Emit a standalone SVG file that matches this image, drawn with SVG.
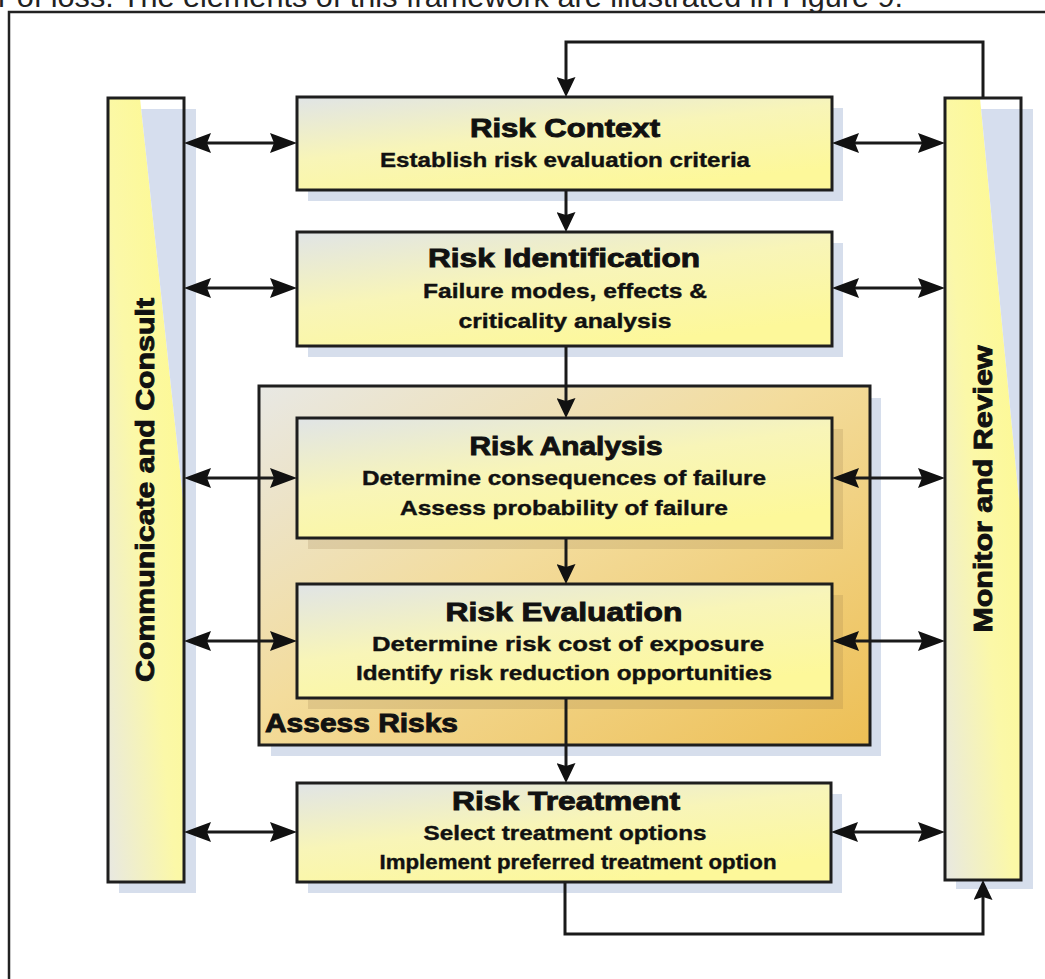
<svg xmlns="http://www.w3.org/2000/svg" width="1045" height="979" viewBox="0 0 1045 979">
<style>
.box{stroke:#1e1e1e;stroke-width:3}
.shadow{fill:#d6deec}
.ishadow{fill:#8a7040;fill-opacity:0.18}
.title{font-family:"Liberation Sans",Arial,sans-serif;font-weight:bold;font-size:26px;fill:#111;stroke:#111;stroke-width:0.9;text-anchor:middle}
.sub{font-family:"Liberation Sans",Arial,sans-serif;font-weight:bold;font-size:21px;fill:#111;stroke:#111;stroke-width:0.4;text-anchor:middle}
.conn{fill:none;stroke:#1a1a1a;stroke-width:3}
</style>
<defs>
<linearGradient id="gBox" x1="0" y1="0" x2="0.6" y2="1">
<stop offset="0" stop-color="#e0e4e6"/>
<stop offset="0.5" stop-color="#f8f5b8"/>
<stop offset="1" stop-color="#fdf89a"/>
</linearGradient>
<linearGradient id="gCol" x1="0" y1="1" x2="1" y2="0">
<stop offset="0" stop-color="#e8e8e2"/>
<stop offset="0.45" stop-color="#fbf8a8"/>
<stop offset="1" stop-color="#fef98a"/>
</linearGradient>
<linearGradient id="gAssess" x1="0" y1="0" x2="1" y2="1">
<stop offset="0" stop-color="#e8e8e4"/>
<stop offset="0.45" stop-color="#f3dc9c"/>
<stop offset="1" stop-color="#edbf55"/>
</linearGradient>
<marker id="hh" viewBox="0 0 27 20" refX="20" refY="10" markerWidth="27" markerHeight="20" markerUnits="userSpaceOnUse" orient="auto-start-reverse">
<path d="M0,0 L27,10 L0,20 L4,10 Z" fill="#111"/>
</marker>
<marker id="vh" viewBox="0 0 20 19" refX="14" refY="9.5" markerWidth="20" markerHeight="19" markerUnits="userSpaceOnUse" orient="auto">
<path d="M0,0 L20,9.5 L0,19 L3,9.5 Z" fill="#111"/>
</marker>
</defs>
<rect width="1045" height="979" fill="#ffffff"/>
<text x="-2" y="7" font-family="Liberation Sans, Arial, sans-serif" font-size="30" fill="#222" textLength="905" lengthAdjust="spacingAndGlyphs">r of loss. The elements of this framework are illustrated in Figure 9.</text>
<path d="M9,979 V12 H1045" fill="none" stroke="#222" stroke-width="2.5"/>

<g id="communicate">
<rect class="shadow" x="119" y="109" width="77" height="784"/>
<rect x="108" y="98" width="76" height="784" fill="url(#gCol)"/>
<polygon points="140,98 184,98 184,508" fill="#ffffff"/>
<polygon points="141.2,109 184,109 184,508" fill="#d6deee"/>
<rect class="box" x="108" y="98" width="76" height="784" fill="none"/>
<text class="title" transform="translate(154,490) rotate(-90)" textLength="384" lengthAdjust="spacingAndGlyphs">Communicate and Consult</text>
</g>

<g id="monitor">
<rect class="shadow" x="956" y="109" width="77" height="780"/>
<rect x="945" y="98" width="76" height="782" fill="url(#gCol)"/>
<polygon points="980,98 1021,98 1021,520" fill="#ffffff"/>
<polygon points="981.1,109 1021,109 1021,520" fill="#d6deee"/>
<rect class="box" x="945" y="98" width="76" height="782" fill="none"/>
<text class="title" transform="translate(992,489) rotate(-90)" textLength="287" lengthAdjust="spacingAndGlyphs">Monitor and Review</text>
</g>

<g id="risk-context">
<rect class="shadow" x="308" y="108" width="535" height="93"/>
<rect class="box" x="297" y="97" width="535" height="93" fill="url(#gBox)"/>
<text class="title" x="565" y="137" textLength="190" lengthAdjust="spacingAndGlyphs">Risk Context</text>
<text class="sub" x="565" y="167" textLength="370" lengthAdjust="spacingAndGlyphs">Establish risk evaluation criteria</text>
</g>

<g id="risk-identification">
<rect class="shadow" x="308" y="243" width="535" height="114"/>
<rect class="box" x="297" y="232" width="535" height="114" fill="url(#gBox)"/>
<text class="title" x="564" y="267" textLength="272" lengthAdjust="spacingAndGlyphs">Risk Identification</text>
<text class="sub" x="565" y="298" textLength="284" lengthAdjust="spacingAndGlyphs">Failure modes, effects &amp;</text>
<text class="sub" x="565" y="328" textLength="213" lengthAdjust="spacingAndGlyphs">criticality analysis</text>
</g>

<g id="assess-risks">
<rect class="shadow" x="271" y="398" width="610" height="358"/>
<rect class="box" x="259" y="386" width="611" height="359" fill="url(#gAssess)"/>
<text x="265" y="732" font-family="Liberation Sans, Arial, sans-serif" font-weight="bold" font-size="25" fill="#111" stroke="#111" stroke-width="0.9" textLength="193" lengthAdjust="spacingAndGlyphs">Assess Risks</text>
</g>

<g id="risk-analysis">
<rect class="ishadow" x="308" y="429" width="535" height="120"/>
<rect class="box" x="297" y="418" width="535" height="120" fill="url(#gBox)"/>
<text class="title" x="566" y="455" textLength="193" lengthAdjust="spacingAndGlyphs">Risk Analysis</text>
<text class="sub" x="564" y="485" textLength="404" lengthAdjust="spacingAndGlyphs">Determine consequences of failure</text>
<text class="sub" x="564" y="515" textLength="328" lengthAdjust="spacingAndGlyphs">Assess probability of failure</text>
</g>

<g id="risk-evaluation">
<rect class="ishadow" x="308" y="595" width="535" height="114"/>
<rect class="box" x="297" y="584" width="535" height="114" fill="url(#gBox)"/>
<text class="title" x="564" y="621" textLength="237" lengthAdjust="spacingAndGlyphs">Risk Evaluation</text>
<text class="sub" x="568" y="651" textLength="392" lengthAdjust="spacingAndGlyphs">Determine risk cost of exposure</text>
<text class="sub" x="564" y="680" textLength="416" lengthAdjust="spacingAndGlyphs">Identify risk reduction opportunities</text>
</g>

<g id="risk-treatment">
<rect class="shadow" x="308" y="794" width="534" height="99"/>
<rect class="box" x="297" y="783" width="534" height="99" fill="url(#gBox)"/>
<text class="title" x="566" y="810" textLength="228" lengthAdjust="spacingAndGlyphs">Risk Treatment</text>
<text class="sub" x="565" y="840" textLength="283" lengthAdjust="spacingAndGlyphs">Select treatment options</text>
<text class="sub" x="578" y="869" textLength="397" lengthAdjust="spacingAndGlyphs">Implement preferred treatment option</text>
</g>

<g id="connectors">
<path class="conn" d="M983,97 V42 H566 V91" marker-end="url(#vh)"/>
<path class="conn" d="M566,191 V226" marker-end="url(#vh)"/>
<path class="conn" d="M566,347 V412" marker-end="url(#vh)"/>
<path class="conn" d="M566,539 V578" marker-end="url(#vh)"/>
<path class="conn" d="M566,699 V777" marker-end="url(#vh)"/>
<path class="conn" d="M565,883 V934 H983 V886" marker-end="url(#vh)"/>

<path class="conn" d="M191,143 H290" marker-start="url(#hh)" marker-end="url(#hh)"/>
<path class="conn" d="M839,143 H938" marker-start="url(#hh)" marker-end="url(#hh)"/>
<path class="conn" d="M191,288 H290" marker-start="url(#hh)" marker-end="url(#hh)"/>
<path class="conn" d="M839,288 H938" marker-start="url(#hh)" marker-end="url(#hh)"/>
<path class="conn" d="M191,478 H290" marker-start="url(#hh)" marker-end="url(#hh)"/>
<path class="conn" d="M839,478 H938" marker-start="url(#hh)" marker-end="url(#hh)"/>
<path class="conn" d="M191,641 H290" marker-start="url(#hh)" marker-end="url(#hh)"/>
<path class="conn" d="M839,641 H938" marker-start="url(#hh)" marker-end="url(#hh)"/>
<path class="conn" d="M191,832 H290" marker-start="url(#hh)" marker-end="url(#hh)"/>
<path class="conn" d="M838,832 H938" marker-start="url(#hh)" marker-end="url(#hh)"/>
</g>
</svg>
